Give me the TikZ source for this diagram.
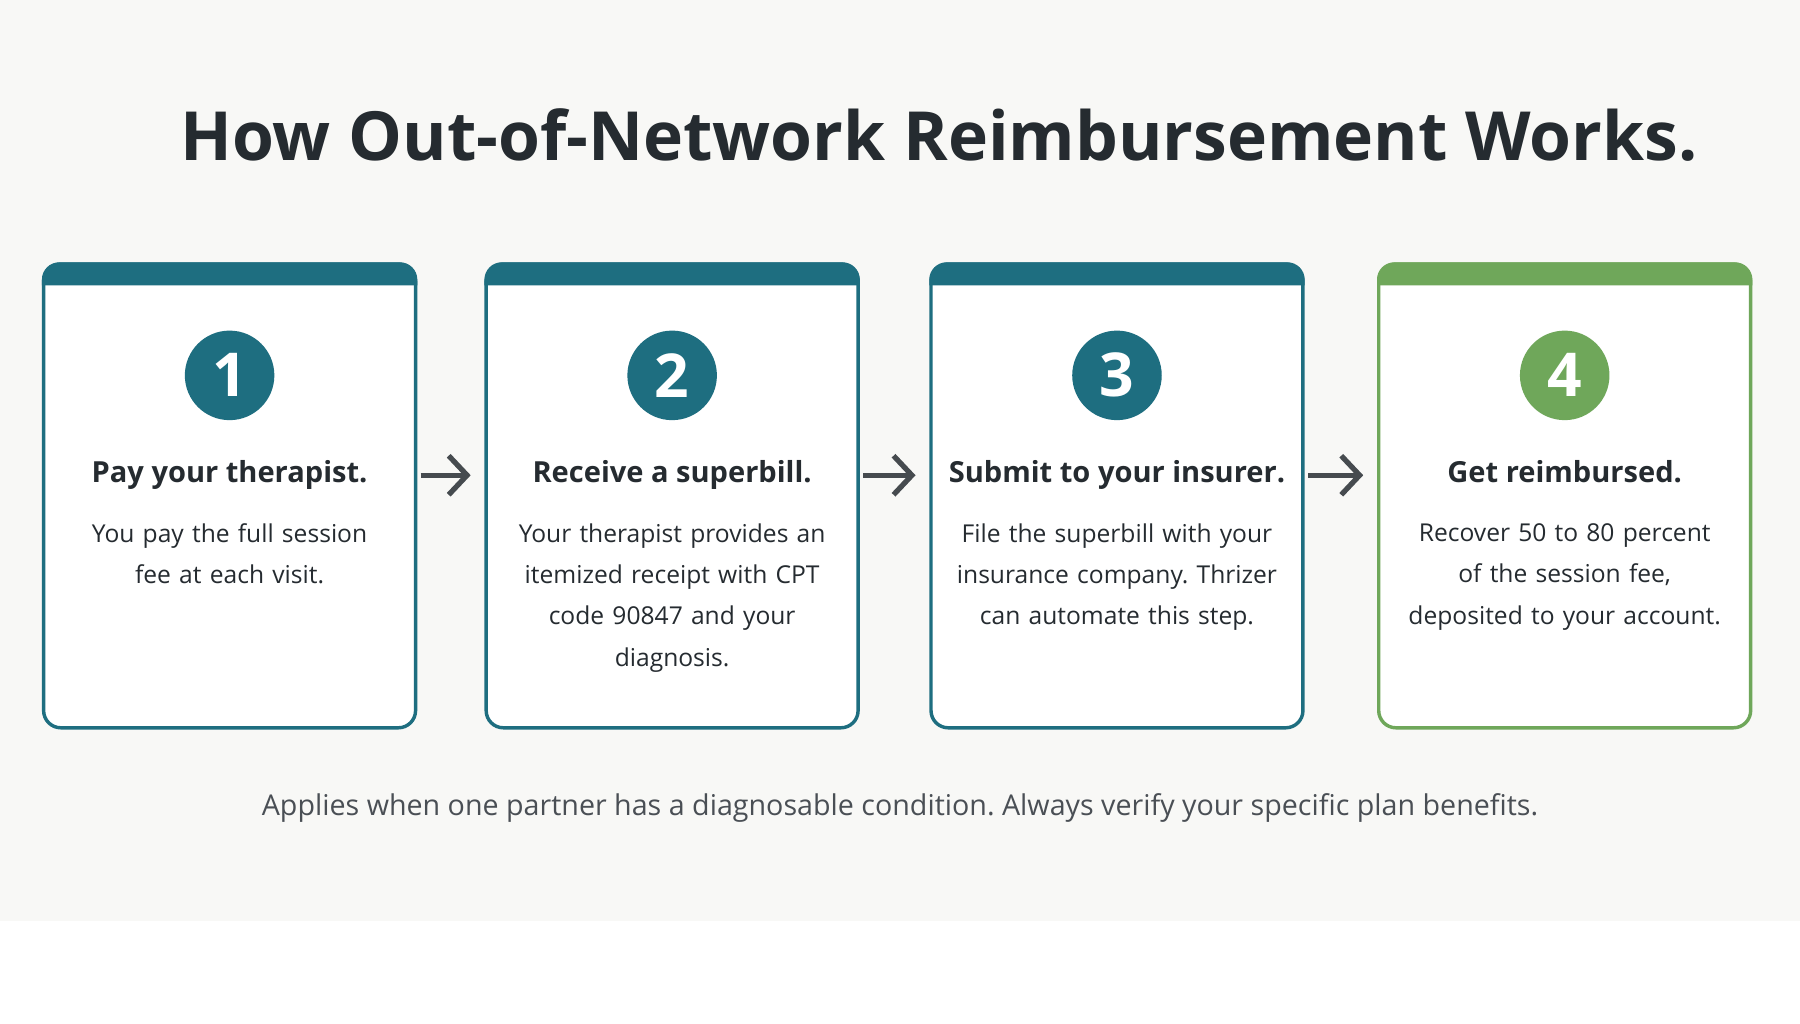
\documentclass[tikz,border=0pt]{standalone}
\usepackage{fontspec}
\setmainfont{Open Sans}
\frenchspacing
\usetikzlibrary{calc,positioning,arrows.meta}
\definecolor{deepteal}{HTML}{1E6E80}
\definecolor{leaf}{HTML}{6FA75A}
\definecolor{ink}{HTML}{252B30}
\definecolor{paper}{HTML}{F8F8F6}
\definecolor{note}{HTML}{4A4F55}

\tikzset{
  card/.style={draw=#1, line width=0.85pt, rounded corners=0.15cm, fill=white,
    minimum width=3.24cm, minimum height=4.04cm},
  badge/.style={circle, fill=#1, minimum size=0.78cm, inner sep=0pt,
    text=white, font=\fontsize{15}{15}\selectfont\bfseries},
  cardhead/.style={font=\fontsize{7.2}{9}\selectfont\bfseries, text=ink, anchor=base},
  blurb/.style={font=\fontsize{6.1}{10.2}\selectfont, text=ink, align=center, text width=3.1cm},
  flow/.style={-{Straight Barb[length=1.6mm,width=3.4mm]}, line width=1.3pt, draw=ink!85,
    shorten <=0.03cm, shorten >=0.12cm}
}

\begin{document}
\begin{tikzpicture}
    \fill[paper] (0,0.9) rectangle (15.68,8.92);
    \useasboundingbox (0,0) rectangle (15.68,8.92);

    \node[font=\fontsize{16.8}{20}\selectfont\bfseries, text=ink] (title) at (8.18,7.74) {How Out-of-Network Reimbursement Works.};

    \foreach \i/\x/\c/\h/\t in {
        1/2.00/deepteal/Pay your therapist./{You pay the full session\\fee at each visit.},
        2/5.855/deepteal/Receive a superbill./{Your therapist provides an\\itemized receipt with CPT\\code 90847 and your\\diagnosis.},
        3/9.73/deepteal/Submit to your insurer./{File the superbill with your\\insurance company. Thrizer\\can automate this step.},
        4/13.63/leaf/Get reimbursed./{Recover 50 to 80 percent\\of the session fee,\\deposited to your account.}} {
        \node[card=\c] (card\i) at (\x,4.60) {};
        \fill[\c] ($(card\i.north west)+(0,-0.2)$)
            {[rounded corners=0.15cm] -- (card\i.north west) -- (card\i.north east)}
            -- ($(card\i.north east)+(0,-0.2)$) -- cycle;
        \node[badge=\c] (num\i) at (\x,5.65) {\i};
        \node[cardhead] (head\i) at (\x,4.72) {\h};
        \node[blurb, anchor=north] (text\i) at (\x,4.48) {\t};
    }

    \foreach \a/\b in {1/2, 2/3, 3/4}
        \draw[flow] ($(card\a.east)+(0,0.18)$) -- ($(card\b.west)+(0,0.18)$);

    \node[font=\fontsize{7.1}{9}\selectfont, text=note] (foot) at (7.84,1.88) {Applies when one partner has a diagnosable condition. Always verify your specific plan benefits.};
\end{tikzpicture}
\end{document}
